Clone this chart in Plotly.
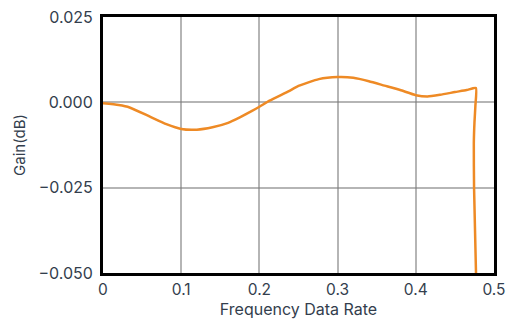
import plotly.graph_objects as go

freq = [0.0, 0.02, 0.034, 0.06, 0.081, 0.10, 0.12, 0.14, 0.16, 0.175, 0.19, 0.20, 0.213,
        0.237, 0.25, 0.276, 0.30, 0.32, 0.34, 0.36, 0.38, 0.40, 0.415, 0.431, 0.45, 0.465, 0.4768,
        0.4762, 0.4750, 0.4742, 0.4745, 0.4770, 0.4772]
gain = [-0.0003, -0.0008, -0.0015, -0.0042, -0.0064, -0.0078, -0.0080, -0.0073, -0.0060, -0.0044,
        -0.0026, -0.0013, 0.0005, 0.0032, 0.0048, 0.0068, 0.0074, 0.0072, 0.0062, 0.0049,
        0.0036, 0.0021, 0.0017, 0.0022, 0.0030, 0.0036, 0.0042,
        -0.0010, -0.006, -0.012, -0.025, -0.050, -0.056]

x_ticks = [0, 0.1, 0.2, 0.3, 0.4, 0.5]
x_tick_labels = ["0", "0.1", "0.2", "0.3", "0.4", "0.5"]
y_ticks = [-0.05, -0.025, 0.0, 0.025]

text_color = "#333e4d"
font_family = "Inter, 'Open Sans', sans-serif"

fig = go.Figure()
fig.add_trace(go.Scatter(x=freq, y=gain, mode="lines",
                         line=dict(color="#ee8a25", width=2.5, shape="spline", smoothing=0.5),
                         showlegend=False))

grid = "rgba(120,120,120,0.55)"
fig.update_xaxes(range=[0, 0.5], tickvals=x_ticks, ticktext=x_tick_labels,
                 showgrid=True, gridcolor=grid, gridwidth=2, zeroline=False,
                 showline=True, linecolor="black", linewidth=3, mirror=True,
                 ticks="", automargin=False,
                 title=dict(text="Frequency Data Rate", standoff=4,
                            font=dict(size=16, color=text_color)),
                 tickfont=dict(size=15.5, color=text_color))
fig.update_yaxes(range=[-0.05, 0.025], tickvals=y_ticks, tickformat=".3f",
                 showgrid=True, gridcolor=grid, gridwidth=2, zeroline=False,
                 showline=True, linecolor="black", linewidth=3, mirror=True,
                 ticks="", automargin=False, ticklabelstandoff=4,
                 title=dict(text="Gain(dB)", standoff=10,
                            font=dict(size=15, color=text_color)),
                 tickfont=dict(size=16, color=text_color))

fig.update_layout(width=507, height=323, margin=dict(l=103, r=13, t=17, b=50),
                  paper_bgcolor="white", plot_bgcolor="white",
                  font=dict(family=font_family, color=text_color))

fig.write_html("out.html", config={"displayModeBar": False},
               post_script="document.body.style.margin='0';document.body.style.overflow='hidden';")
